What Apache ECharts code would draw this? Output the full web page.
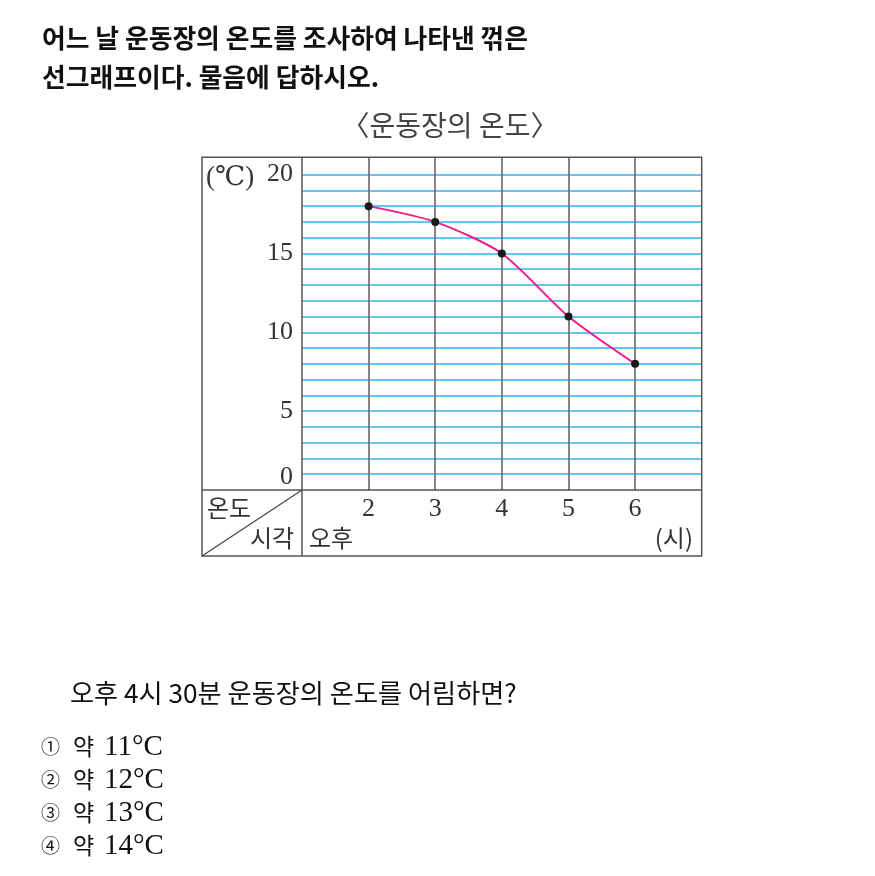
<!DOCTYPE html>
<html>
<head>
<meta charset="utf-8">
<script src="https://cdn.jsdelivr.net/npm/echarts@6/dist/echarts.min.js"></script>
<style>
html,body{margin:0;padding:0;background:#fff;}
#c{width:875px;height:876px;}
</style>
</head>
<body>
<div id="c"></div>
<script>
// ---- data ----
const hours = [2, 3, 4, 5, 6];
const temps = [18, 17, 15, 11, 8];
const xTickLabels = [2, 3, 4, 5, 6];
const yTickLabels = [0, 5, 10, 15, 20];
const headingLines = ['어느 날 운동장의 온도를 조사하여 나타낸 꺾은', '선그래프이다. 물음에 답하시오.'];
const chartTitle = '〈운동장의 온도〉';
const question = '오후 4시 30분 운동장의 온도를 어림하면?';
const choiceMarks = ['①', '②', '③', '④'];
const choiceValues = ['11°C', '12°C', '13°C', '14°C'];

const SANS = '"Noto Sans CJK KR", "Noto Sans", sans-serif';
const SERIF = '"Liberation Serif", "DejaVu Serif", serif';

// layout
const L = 202, R = 701.7, T = 157.3, B = 556, DX = 302, DY = 490;
const T20 = 174.6; // top of the labelled scale (20 °C)

const chart = echarts.init(document.getElementById('c'), null, {renderer: 'canvas'});

const graphics = [];
headingLines.forEach((t, i) => {
  graphics.push({type: 'text', x: 42, y: 38 + i * 39, z: 10,
    style: {text: t, fontFamily: SANS, fontSize: 25.8, fontWeight: 'bold', fill: '#111', verticalAlign: 'middle'}});
});
graphics.push({type: 'text', x: 450, y: 125, z: 10,
  style: {text: chartTitle, fontFamily: SANS, fontSize: 28, fill: '#444', align: 'center', verticalAlign: 'middle'}});
// frame
const ls = {stroke: '#555', lineWidth: 1.5};
graphics.push({type: 'rect', z: 20, shape: {x: L, y: T, width: R - L, height: B - T}, style: {fill: 'none', stroke: '#555', lineWidth: 1.5}});
graphics.push({type: 'line', z: 20, shape: {x1: DX, y1: T, x2: DX, y2: B}, style: ls});
graphics.push({type: 'line', z: 20, shape: {x1: L, y1: DY, x2: R, y2: DY}, style: ls});
graphics.push({type: 'line', z: 20, shape: {x1: DX, y1: DY, x2: L, y2: B}, style: {stroke: '#444', lineWidth: 1.2}});
// table texts
graphics.push({type: 'text', x: 207, y: 508, z: 10, style: {text: '온도', fontFamily: SANS, fontSize: 24, fill: '#333', verticalAlign: 'middle'}});
graphics.push({type: 'text', x: 250, y: 538, z: 10, style: {text: '시각', fontFamily: SANS, fontSize: 24, fill: '#333', verticalAlign: 'middle'}});
graphics.push({type: 'text', x: 309, y: 538, z: 10, style: {text: '오후', fontFamily: SANS, fontSize: 24, fill: '#333', verticalAlign: 'middle'}});
graphics.push({type: 'text', x: 693, y: 538, z: 10, style: {text: '(시)', fontFamily: SANS, fontSize: 24, fill: '#333', align: 'right', verticalAlign: 'middle'}});
graphics.push({type: 'text', x: 206, y: 178, z: 10, style: {text: '(℃)', fontFamily: SERIF, fontSize: 27, fill: '#333', verticalAlign: 'middle'}});
// question
graphics.push({type: 'text', x: 70, y: 693, z: 10, style: {text: question, fontFamily: SANS, fontSize: 26.2, fill: '#111', verticalAlign: 'middle'}});
choiceMarks.forEach((m, i) => {
  const y = 746.5 + i * 33;
  graphics.push({type: 'text', x: 41, y: y, z: 10, style: {text: m, fontFamily: SANS, fontSize: 19, fill: '#111', verticalAlign: 'middle'}});
  graphics.push({type: 'text', x: 73, y: y, z: 10, style: {text: '약', fontFamily: SANS, fontSize: 23, fill: '#111', verticalAlign: 'middle'}});
  graphics.push({type: 'text', x: 104, y: y + 1, z: 10, style: {text: choiceValues[i], fontFamily: SERIF, fontSize: 29, fill: '#111', verticalAlign: 'middle'}});
});

chart.setOption({
  animation: false,
  backgroundColor: '#fff',
  grid: [
    {left: DX, right: 875 - R, top: T, bottom: 876 - DY, containLabel: false},
    {left: DX, right: 875 - R, top: T20, bottom: 876 - DY, containLabel: false}
  ],
  xAxis: [{
    gridIndex: 0, type: 'value', min: 1, max: 7, interval: 1, z: 3,
    axisLine: {show: false}, axisTick: {show: false}, axisLabel: {show: false},
    splitLine: {show: true, showMinLine: false, showMaxLine: false, lineStyle: {color: '#666', width: 1.6}}
  }, {
    gridIndex: 1, type: 'value', min: 1, max: 7, interval: 1,
    axisLine: {show: false}, axisTick: {show: false}, splitLine: {show: false},
    axisLabel: {
      margin: 6, fontFamily: SERIF, fontSize: 26, color: '#333',
      formatter: v => xTickLabels.includes(v) ? String(v) : ''
    }
  }],
  yAxis: [{
    gridIndex: 0, type: 'value', min: 0, max: 1, show: false
  }, {
    gridIndex: 1, type: 'value', min: 0, max: 20, interval: 1, z: 1,
    axisLine: {show: false}, axisTick: {show: false},
    splitLine: {show: true, showMinLine: false, showMaxLine: true, lineStyle: {color: '#2DB4EA', width: 1.6}},
    axisLabel: {
      margin: 9, fontFamily: SERIF, fontSize: 26, color: '#333',
      formatter: v => yTickLabels.includes(v) ? (v === 0 ? '{z|0}' : String(v)) : '',
      rich: {z: {fontFamily: SERIF, fontSize: 26, color: '#333', padding: [0, 0, 26, 0]}}
    }
  }],
  series: [{
    type: 'line', xAxisIndex: 1, yAxisIndex: 1,
    data: hours.map((h, i) => [h, temps[i]]),
    smooth: 0.25,
    symbol: 'circle', symbolSize: 8,
    itemStyle: {color: '#1a1a1a'},
    lineStyle: {color: '#EC1E8E', width: 2},
    z: 5
  }],
  graphic: graphics
});
</script>
</body>
</html>
